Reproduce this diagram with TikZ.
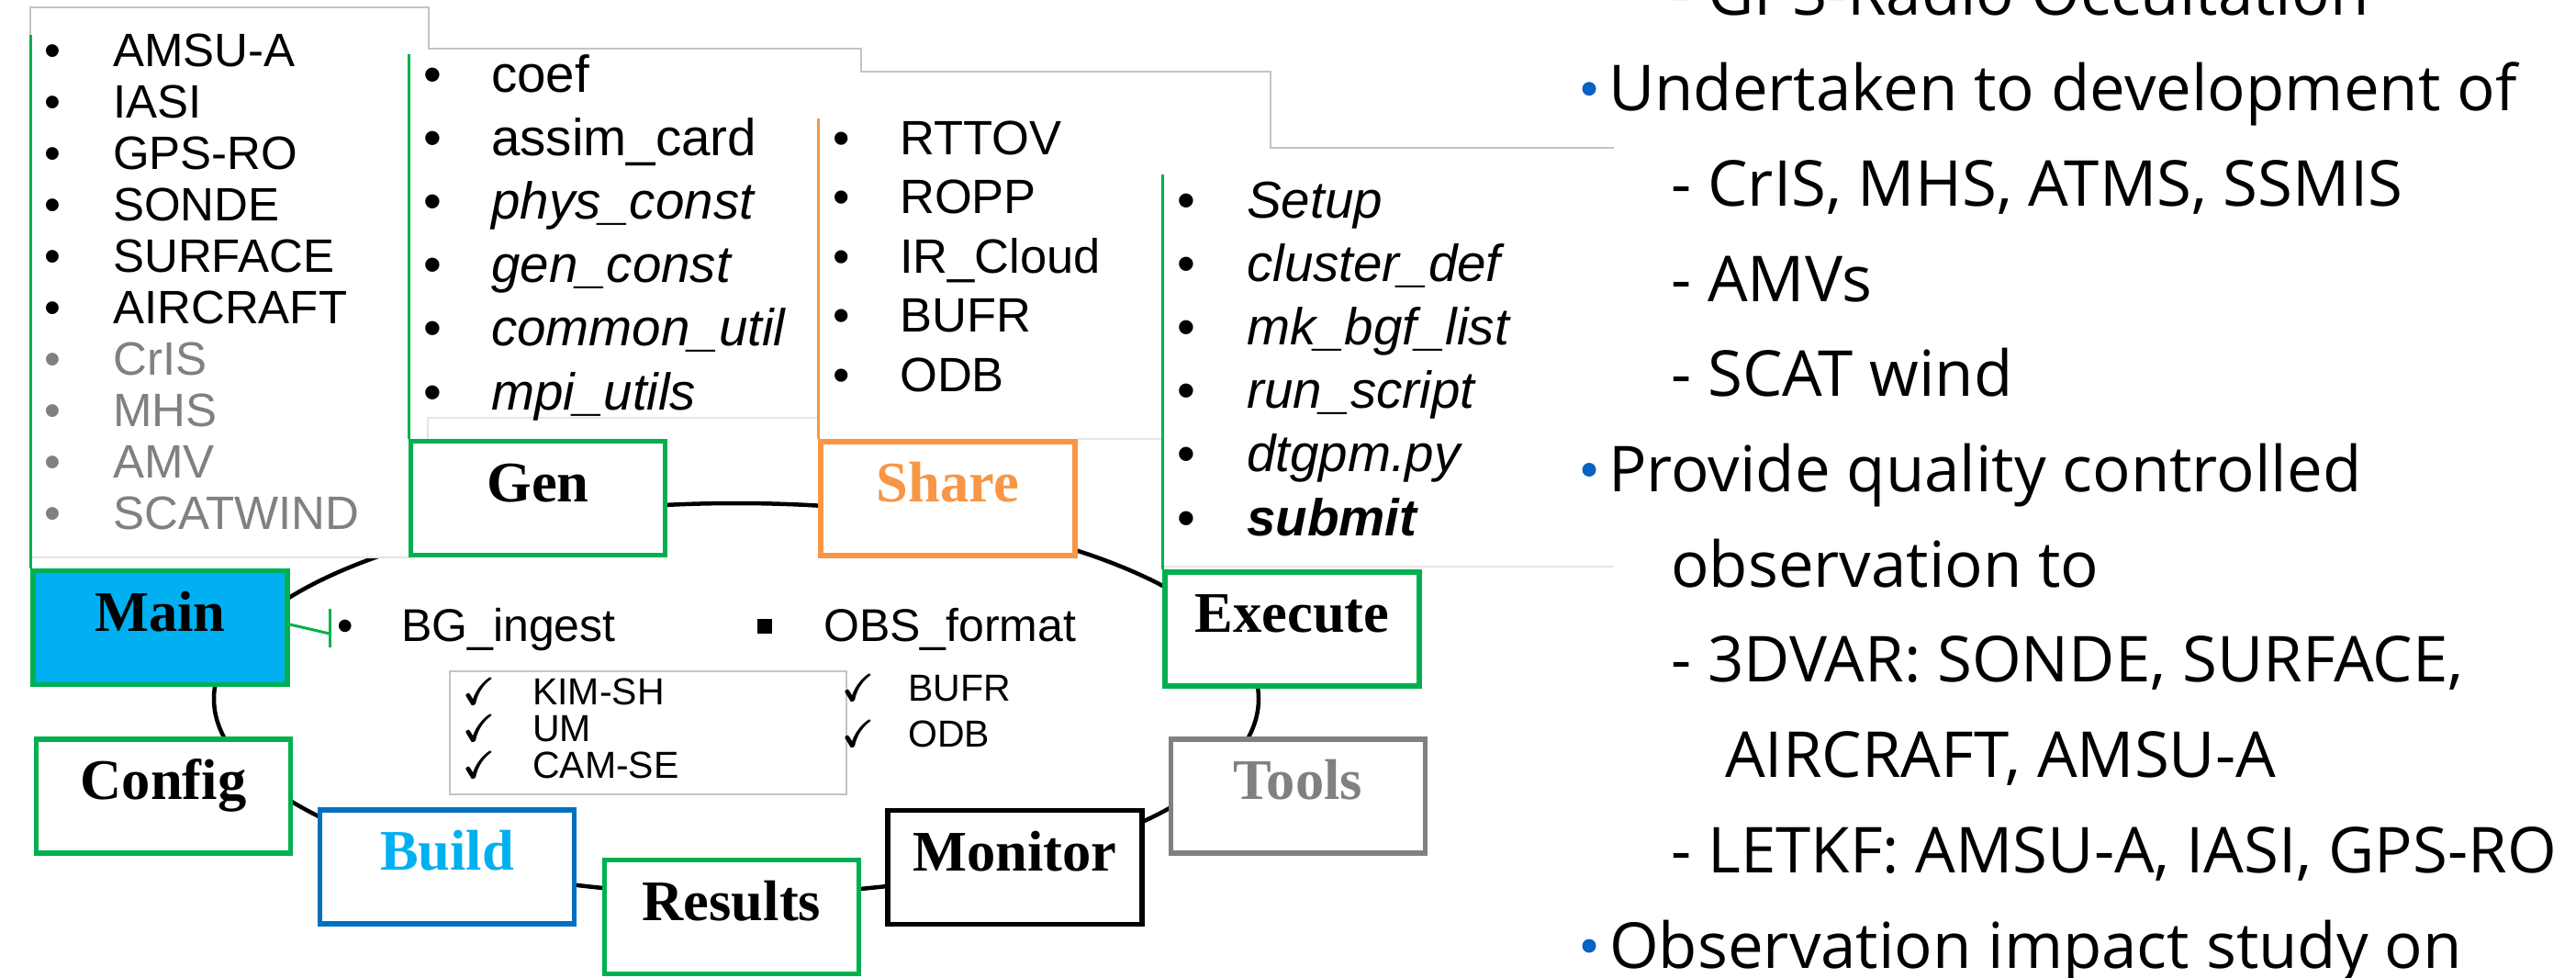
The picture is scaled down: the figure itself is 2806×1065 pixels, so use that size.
\documentclass[tikz,border=0pt]{standalone}
\usepackage{amsmath}
\usepackage{amssymb}
\usepackage{fontspec}
\setmainfont{Liberation Sans}
\newfontfamily\boxfont{Liberation Serif}
\newfontfamily\rfont{Open Sans}
\usetikzlibrary{shapes.geometric}
\definecolor{cgreen}{HTML}{00B050}
\definecolor{corange}{HTML}{F79646}
\definecolor{cblue}{HTML}{00B0F0}
\definecolor{cdblue}{HTML}{0070C0}
\definecolor{cgray}{HTML}{808080}
\definecolor{pline}{HTML}{C4C4C4}
\definecolor{plinel}{HTML}{E4E4E4}
\definecolor{bblue}{HTML}{0563C1}
\begin{document}
\begin{tikzpicture}[x=1pt,y=-1pt,
  modbox/.style={draw, line width=5.5pt, minimum width=277pt, minimum height=124pt, fill=white, inner sep=0pt, text height=0.71em, text depth=0pt, font=\boxfont\bfseries\fontsize{62.5}{62.5}\selectfont},
  bul/.style={anchor=base, inner sep=0pt},
  itm/.style={anchor=base west, inner sep=0pt},
  rt/.style={anchor=base west, inner sep=0pt, font=\rfont\fontsize{69}{69}\selectfont},
  rbul/.style={circle, fill=bblue, minimum size=15pt, inner sep=0pt},
  pl/.style={pline, line width=1.5pt},
  pll/.style={plinel, line width=1.5pt},
  side/.style={line width=3pt},
  fmain/.style={font=\fontsize{51}{51}\selectfont},
  fgen/.style={font=\fontsize{56.5}{56.5}\selectfont},
  fshare/.style={font=\fontsize{52.5}{52.5}\selectfont},
  fmid/.style={font=\fontsize{50}{50}\selectfont},
  fsmall/.style={font=\fontsize{41}{41}\selectfont}
]
\useasboundingbox (0,0) rectangle (2806,1065);
% ring behind the modules
\node[ellipse, draw, line width=4.5pt, minimum width=1138pt, minimum height=426pt, inner sep=0pt] (ring) at (802,761) {};
% panel background
\fill[white] (33,8) rectangle (467,607);
% panel outlines
\draw[pl] (33,38) -- (33,8) -- (467,8) -- (467,53) -- (938,53) -- (938,78) -- (1384,78) -- (1384,161) -- (1758,161);
\draw[pll] (33,607) -- (447,607);
\draw[pll] (466,478) -- (466,455) -- (891,455);
\draw[pll] (1174,478) -- (1266,478);
\draw[pll] (1266,617) -- (1758,617);
% modules
\node[modbox, fill=cblue, draw=cgreen] (Main) at (174.5,683.5) {Main};
\node[modbox, draw=cgreen] (Gen) at (586,542.5) {Gen};
\node[modbox, draw=corange, text=corange] (Share) at (1032.5,543) {Share};
\node[modbox, draw=cgreen] (Execute) at (1407.5,685) {Execute};
\node[modbox, draw=cgreen] (Config) at (178,867) {Config};
\node[modbox, draw=cdblue, text=cblue] (Build) at (487,944) {Build};
\node[modbox, draw=cgreen] (Results) at (797,998.5) {Results};
\node[modbox, draw=black] (Monitor) at (1105.5,944.5) {Monitor};
\node[modbox, draw=cgray, text=cgray] (Tools) at (1414,867) {Tools};
% side lines of the lists
\coordinate (mainTop) at (33.5,38);
\coordinate (genTop) at (445.5,59);
\coordinate (shareTop) at (891.5,129);
\coordinate (exeTop) at (1266.5,190);
\draw[cgreen, side] (mainTop) -- (mainTop |- Main.north);
\draw[cgreen, side] (genTop) -- (genTop |- Gen.north);
\draw[corange, side] (shareTop) -- (shareTop |- Share.north);
\draw[cgreen, side] (exeTop) -- (exeTop |- Execute.north);
% Main list
\foreach \t [count=\i] in {AMSU-A,IASI,GPS-RO,SONDE,SURFACE,AIRCRAFT} {
  \node[bul, fmain] (mb\i) at (57,{73+55.9*(\i-1)}) {•};
  \node[itm, fmain] (mt\i) at (123,{73+55.9*(\i-1)}) {\t};
}
\foreach \t [count=\i from 7] in {CrIS,MHS,AMV,SCATWIND} {
  \node[bul, fmain, text=cgray] (mb\i) at (57,{73+55.9*(\i-1)}) {•};
  \node[itm, fmain, text=cgray] (mt\i) at (123,{73+55.9*(\i-1)}) {\t};
}
% Gen list
\foreach \t [count=\i] in {coef,assim\_card,\textit{phys\_const},\textit{gen\_const},\textit{common\_util},\textit{mpi\_utils}} {
  \node[bul, fgen] (gb\i) at (471,{100+69.2*(\i-1)}) {•};
  \node[itm, fgen] (gt\i) at (535,{100+69.2*(\i-1)}) {\t};
}
% Share list
\foreach \t [count=\i] in {RTTOV,ROPP,IR\_Cloud,BUFR,ODB} {
  \node[bul, fshare] (sb\i) at (917,{168.5+64.4*(\i-1)}) {•};
  \node[itm, fshare] (st\i) at (980,{168.5+64.4*(\i-1)}) {\t};
}
% Execute list
\foreach \t [count=\i] in {\textit{Setup},\textit{cluster\_def},\textit{mk\_bgf\_list},\textit{run\_script},\textit{dtgpm.py},\textbf{\textit{submit}}} {
  \node[bul, fgen] (eb\i) at (1292,{237+69.2*(\i-1)}) {•};
  \node[itm, fgen] (et\i) at (1358,{237+69.2*(\i-1)}) {\t};
}
% Main connector to the ingest items
\coordinate (tickM) at (359,690);
\coordinate (tickT) at (359,663);
\coordinate (tickB) at (359,705);
\draw[cgreen, line width=3pt] ([yshift=3.5pt]Main.east) -- (tickM);
\draw[cgreen, line width=3pt] (tickT) -- (tickB);
\node[bul, fmid] (bgb) at (376,698) {•};
\node[itm, fmid] (bg) at (437,698) {BG\_ingest};
\node[fill=black, minimum size=16pt, inner sep=0pt] (obsb) at (833,682) {};
\node[itm, fmid] (obs) at (897,698) {OBS\_format};
\node[draw=pline, line width=1.5pt, minimum width=432pt, minimum height=134pt, inner sep=0pt] (kimbox) at (706,798) {};
\foreach \t [count=\i] in {KIM-SH,UM,CAM-SE} {
  \node[itm, fsmall] (kc\i) at (505,{767+40*(\i-1)}) {$\pmb{\checkmark}$};
  \node[itm, fsmall] (kt\i) at (580,{767+40*(\i-1)}) {\t};
}
\foreach \t [count=\i] in {BUFR,ODB} {
  \node[itm, fsmall] (oc\i) at (918,{763+50*(\i-1)}) {$\pmb{\checkmark}$};
  \node[itm, fsmall] (ot\i) at (989,{763+50*(\i-1)}) {\t};
}
% right-hand text
\node[rt] (r0) at (1820,17) {- GPS-Radio Occultation};
\node[rbul] (rb1) at (1731,96.7) {};
\node[rt] (r1) at (1752,120.7) {Undertaken to development of};
\node[rt] (r2) at (1820,224.4) {- CrIS, MHS, ATMS, SSMIS};
\node[rt] (r3) at (1820,328) {- AMVs};
\node[rt] (r4) at (1820,431.8) {- SCAT wind};
\node[rbul] (rb2) at (1731,511.5) {};
\node[rt] (r5) at (1752,535.5) {Provide quality controlled};
\node[rt] (r6) at (1820,639.2) {observation to};
\node[rt] (r7) at (1820,742.9) {- 3DVAR: SONDE, SURFACE,};
\node[rt] (r8) at (1879,846.6) {AIRCRAFT, AMSU-A};
\node[rt] (r9) at (1820,950.3) {- LETKF: AMSU-A, IASI, GPS-RO};
\node[rbul] (rb3) at (1731,1030) {};
\node[rt] (r10) at (1753,1054) {Observation impact study on};
\end{tikzpicture}
\end{document}
